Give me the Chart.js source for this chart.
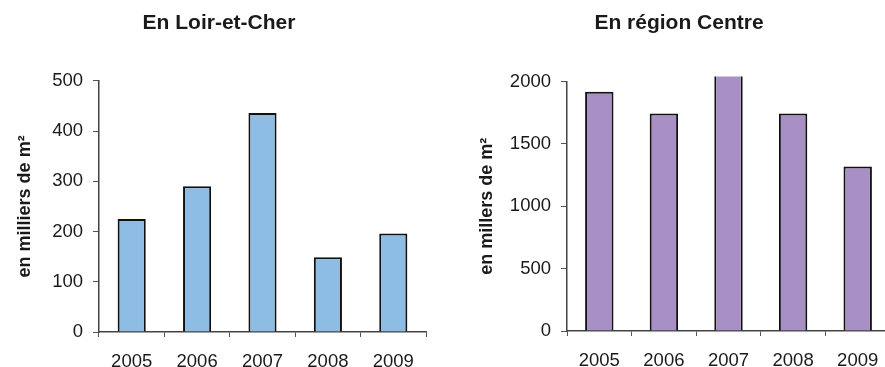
<!DOCTYPE html>
<html>
<head>
<meta charset="utf-8">
<script src="https://cdn.jsdelivr.net/npm/chart.js@4/dist/chart.umd.min.js"></script>
<style>
    html, body { margin: 0; padding: 0; background: #fff; overflow: hidden; width: 885px; height: 367px; }
    .box { position: absolute; top: 0; }
</style>
</head>
<body>
<div class="box" style="left:0"><canvas id="chart-loir" width="440" height="367"></canvas></div>
<div class="box" style="left:440px"><canvas id="chart-centre" width="486" height="367"></canvas></div>
<script>

// Data

var years = ['2005', '2006', '2007', '2008', '2009'];
var loirEtCher = [225, 290, 436, 149, 196];
var regionCentre = [1918, 1744, 2100, 1744, 1318];

var FONT = "'Liberation Sans', Arial, sans-serif";

Chart.defaults.font.family = FONT;
Chart.defaults.color = '#1a1a1a';

// Methods

function makeChart(id, o) {
    return new Chart(document.getElementById(id), {
        type: 'bar',
        data: {
            labels: years,
            datasets: [{
                data: o.values,
                backgroundColor: o.color,
                borderColor: '#111',
                borderWidth: 2,
                barPercentage: o.barPct,
                categoryPercentage: 1,
                clip: { left: 0, top: 5, right: 0, bottom: 0 }
            }]
        },
        options: {
            responsive: false,
            animation: false,
            layout: { padding: { left: o.padLeft, right: o.padRight, top: 0, bottom: 0 } },
            plugins: {
                legend: { display: false },
                tooltip: { enabled: false },
                title: {
                    display: true,
                    text: o.title,
                    font: { size: 21, weight: 'bold' },
                    padding: { top: 11, bottom: o.titleGap }
                }
            },
            scales: {
                x: {
                    grid: { offset: true, drawOnChartArea: false, drawTicks: true, tickLength: 5, color: '#555' },
                    border: { color: '#444', width: 1.5 },
                    ticks: { font: { size: 18.5 }, padding: 14, maxRotation: 0 },
                    afterFit: function (scale) { scale.height = o.xHeight; }
                },
                y: {
                    min: 0,
                    max: o.max,
                    ticks: {
                        stepSize: o.step,
                        font: { size: 18.5 },
                        padding: 10,
                        callback: function (v) { return String(v); }
                    },
                    grid: { drawOnChartArea: false, drawTicks: true, tickLength: 6, color: '#555' },
                    border: { color: '#444', width: 1.5 },
                    title: {
                        display: true,
                        text: o.yTitle,
                        font: { size: 18, weight: 'bold' },
                        padding: { top: o.yTitlePad, bottom: 0 }
                    },
                    // pin the axis line where the reference has it
                    afterFit: function (scale) { scale.width = o.axisX - o.padLeft; }
                }
            }
        }
    });
}

// Charts

makeChart('chart-loir', {
    values: loirEtCher,
    color: '#8dbce5',
    title: 'En Loir-et-Cher',
    yTitle: 'en milliers de m²',
    max: 500,
    step: 100,
    barPct: 0.43,
    padLeft: 12,
    padRight: 14,
    axisX: 99,
    yTitlePad: 2,
    xHeight: 35,
    titleGap: 44.6
});

makeChart('chart-centre', {
    values: regionCentre,
    color: '#a990c4',
    title: 'En région Centre',
    yTitle: 'en millers de m²',
    max: 2000,
    step: 500,
    barPct: 0.44,
    padLeft: 28,
    padRight: 36,
    axisX: 127,
    yTitlePad: 8,
    xHeight: 36,
    titleGap: 45.3
});

</script>
</body>
</html>
